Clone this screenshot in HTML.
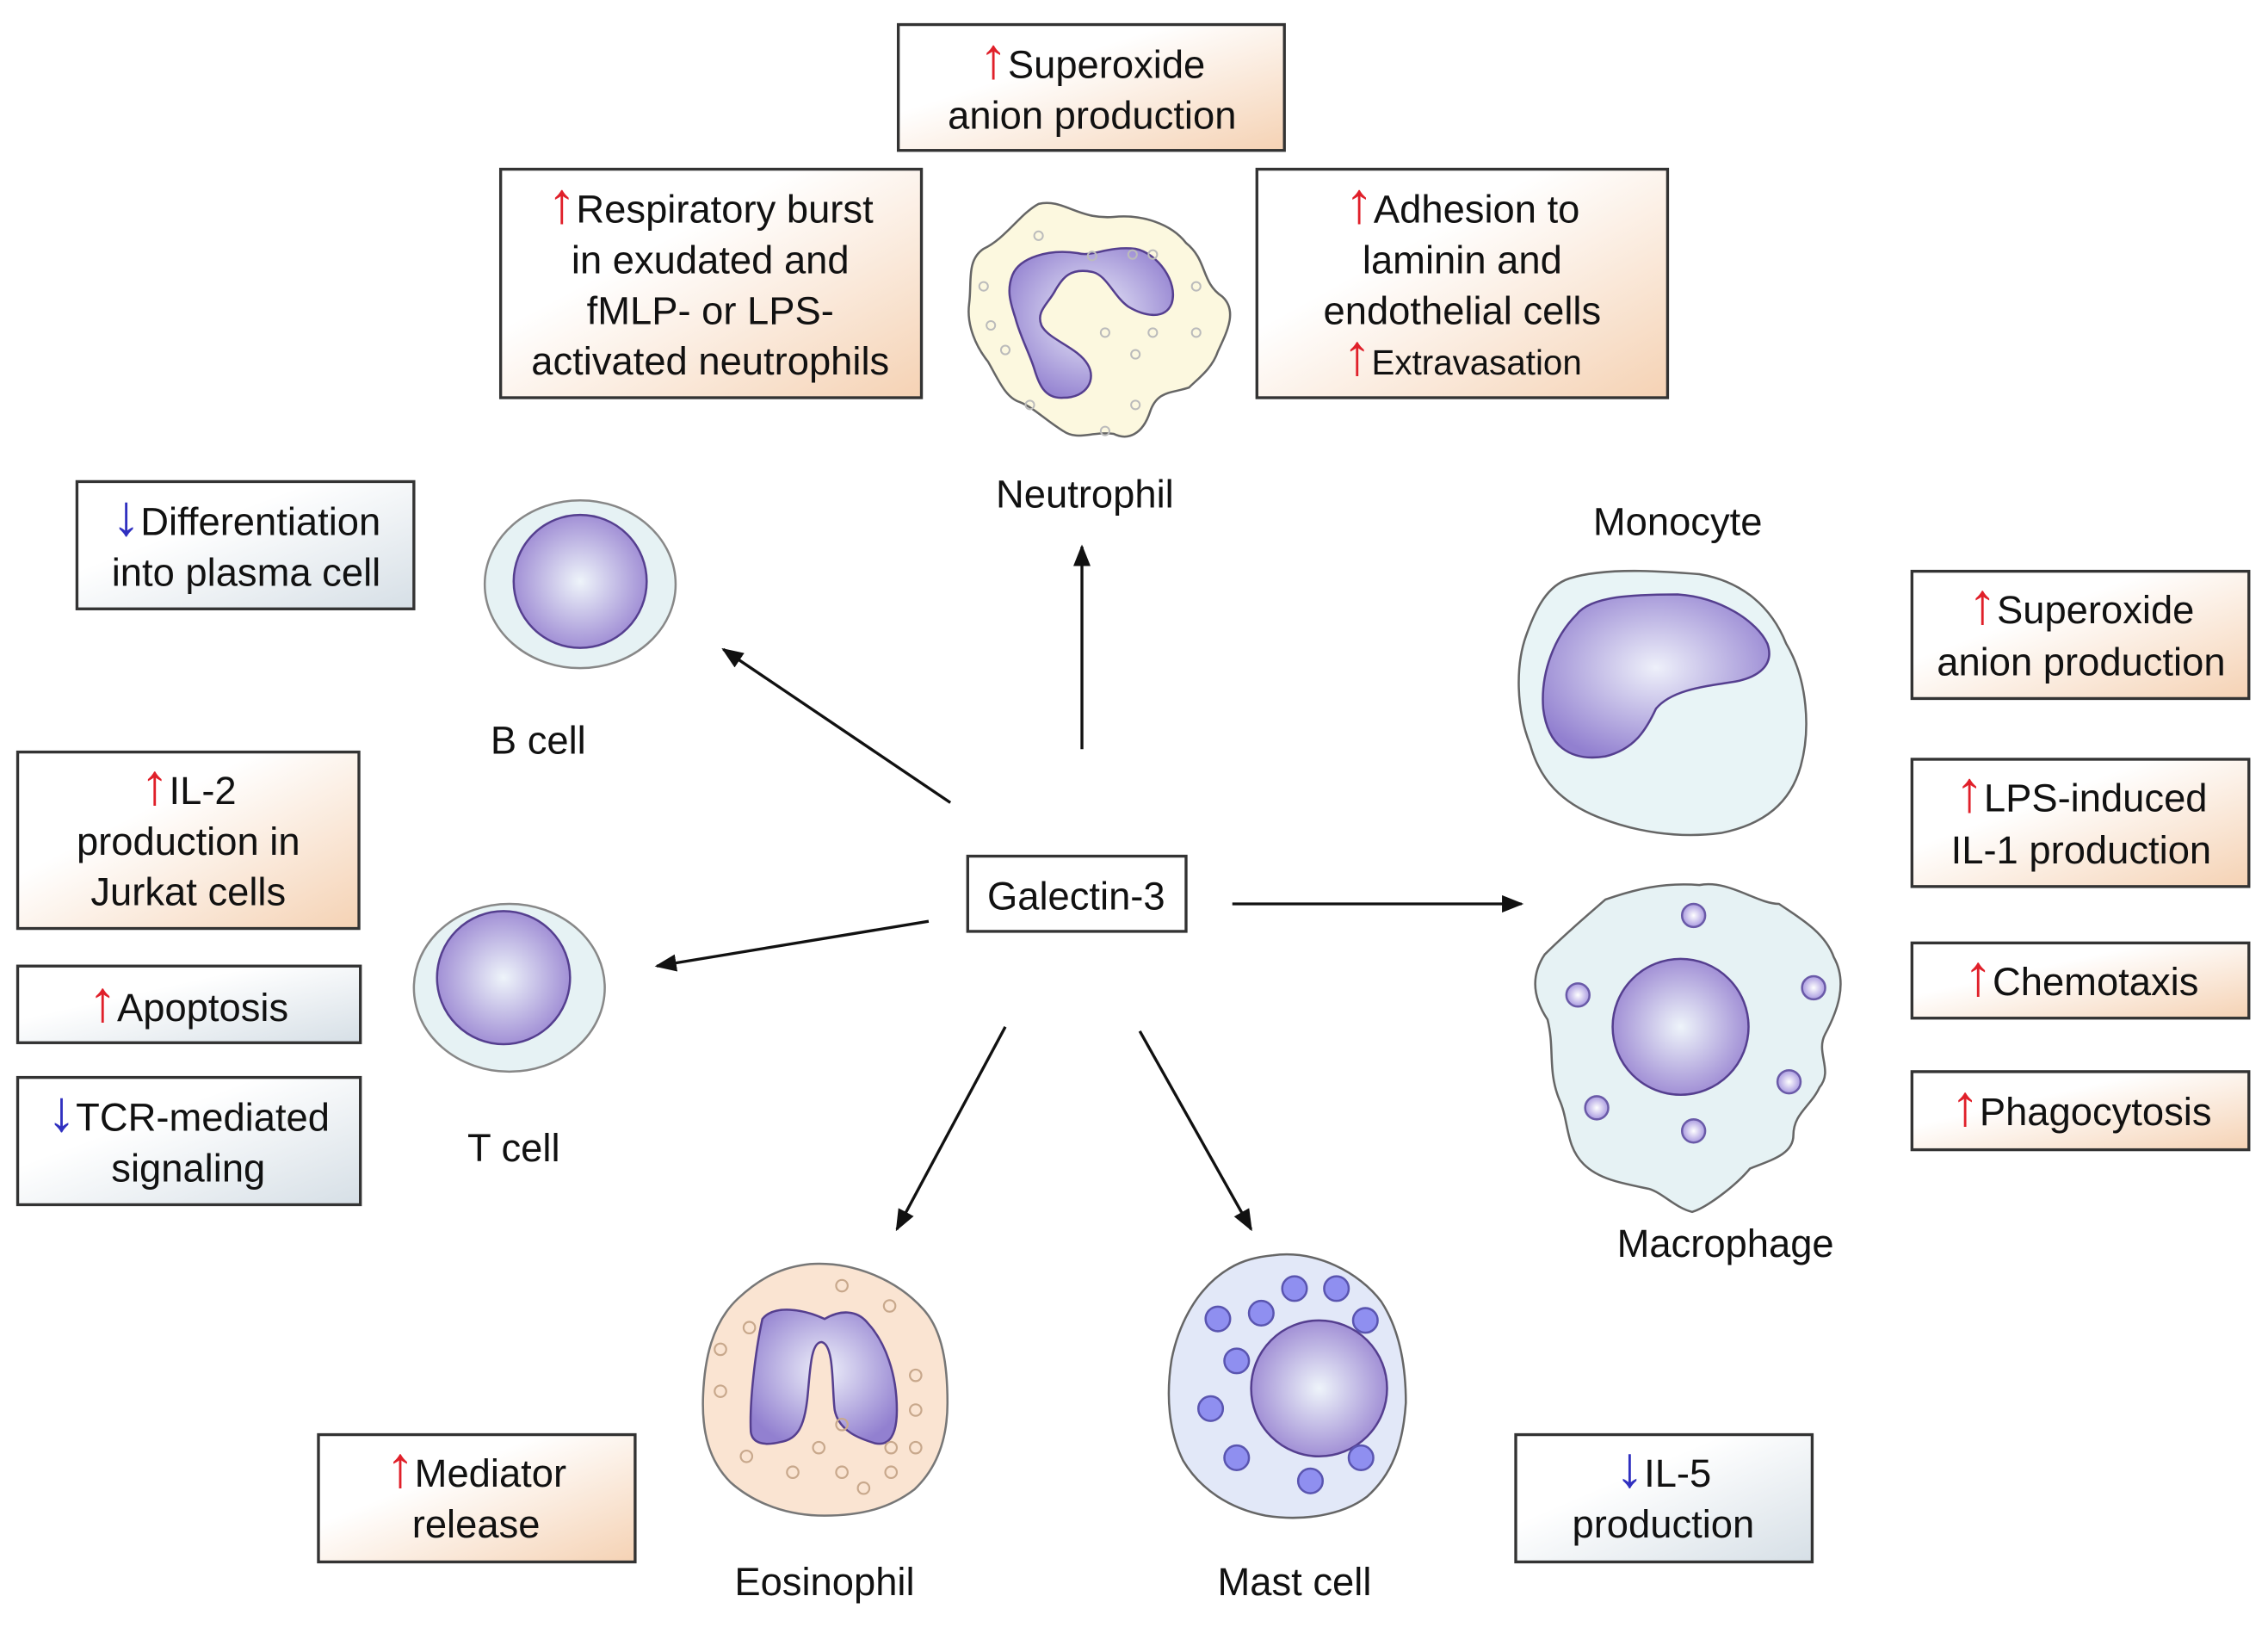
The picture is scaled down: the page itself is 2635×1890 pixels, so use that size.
<!DOCTYPE html>
<html><head><meta charset="utf-8"><style>html,body{margin:0;padding:0;background:#fff}svg{display:block}.u{fill:#e0202a;font-size:40px}.d{fill:#3030c0;font-size:40px}</style></head><body>
<svg width="2635" height="1890" viewBox="0 0 1568 1125" xmlns="http://www.w3.org/2000/svg" font-family="Liberation Sans, Arial, sans-serif">
<defs>
<linearGradient id="pe" x1="0" y1="0" x2="1" y2="1"><stop offset="0.35" stop-color="#ffffff"/><stop offset="1" stop-color="#f5d2b4"/></linearGradient>
<linearGradient id="bl" x1="0" y1="0" x2="1" y2="1"><stop offset="0.35" stop-color="#ffffff"/><stop offset="1" stop-color="#d6dfe6"/></linearGradient>
<radialGradient id="nu" cx="0.5" cy="0.5" r="0.55"><stop offset="0" stop-color="#eef4fa"/><stop offset="1" stop-color="#9a86d2"/></radialGradient>
<radialGradient id="nu2" cx="0.5" cy="0.45" r="0.6"><stop offset="0" stop-color="#eef0fa"/><stop offset="1" stop-color="#9280d0"/></radialGradient>
<radialGradient id="gr" cx="0.5" cy="0.5" r="0.5"><stop offset="0" stop-color="#ffffff"/><stop offset="1" stop-color="#a99ae0"/></radialGradient>
<marker id="ah" viewBox="0 0 10 10" refX="9" refY="5" markerWidth="15" markerHeight="12" orient="auto" markerUnits="userSpaceOnUse" preserveAspectRatio="none"><path d="M0,0 L10,5 L0,10 z" fill="#111"/></marker>
</defs>
<g stroke="#111" stroke-width="2" marker-end="url(#ah)">
<line x1="748" y1="518" x2="748" y2="378"/>
<line x1="657" y1="555" x2="500" y2="449"/>
<line x1="642" y1="637" x2="454" y2="668"/>
<line x1="852" y1="625" x2="1052" y2="625"/>
<line x1="695" y1="710" x2="620" y2="850"/>
<line x1="788" y1="713" x2="865" y2="850"/>
</g>
<g stroke="#333" stroke-width="2">
<rect x="621" y="17" width="267" height="87" fill="url(#pe)"/>
<rect x="346" y="117" width="291" height="158" fill="url(#pe)"/>
<rect x="869" y="117" width="284" height="158" fill="url(#pe)"/>
<rect x="53" y="333" width="233" height="88" fill="url(#bl)"/>
<rect x="12" y="520" width="236" height="122" fill="url(#pe)"/>
<rect x="12" y="668" width="237" height="53" fill="url(#bl)"/>
<rect x="12" y="745" width="237" height="88" fill="url(#bl)"/>
<rect x="669" y="592" width="151" height="52" fill="#fff"/>
<rect x="1322" y="395" width="233" height="88" fill="url(#pe)"/>
<rect x="1322" y="525" width="233" height="88" fill="url(#pe)"/>
<rect x="1322" y="652" width="233" height="52" fill="url(#pe)"/>
<rect x="1322" y="741" width="233" height="54" fill="url(#pe)"/>
<rect x="220" y="992" width="219" height="88" fill="url(#pe)"/>
<rect x="1048" y="992" width="205" height="88" fill="url(#bl)"/>
</g>
<path d="M718,141 C735,137 745,152 770,150 C790,148 810,155 820,168 C835,180 830,195 845,205 C856,215 848,230 842,243 C838,255 828,262 822,268 C810,272 800,270 795,285 C790,300 780,305 770,300 C755,298 745,305 735,298 C722,290 715,282 705,278 C695,275 690,262 683,250 C675,240 668,225 670,210 C672,195 668,180 680,172 C695,165 705,148 718,141 z" fill="#fcf8df" stroke="#666" stroke-width="1.5"/>
<path d="M700,190 C705,178 725,172 745,175 C755,178 765,170 785,172 C800,175 815,195 810,210 C805,222 790,218 780,212 C770,205 765,190 755,188 C740,185 735,192 730,200 C725,210 716,215 720,225 C725,235 745,240 752,252 C758,262 752,275 735,275 C722,276 718,265 715,255 C712,245 705,232 702,220 C698,208 696,200 700,190 z" fill="url(#nu2)" stroke="#553f8f" stroke-width="1.5"/>
<g fill="none" stroke="#bbb" stroke-width="1.2">
<circle cx="718" cy="163" r="3"/><circle cx="755" cy="177" r="3"/><circle cx="783" cy="176" r="3"/><circle cx="797" cy="176" r="3"/><circle cx="680" cy="198" r="3"/><circle cx="827" cy="198" r="3"/><circle cx="685" cy="225" r="3"/><circle cx="764" cy="230" r="3"/><circle cx="797" cy="230" r="3"/><circle cx="827" cy="230" r="3"/><circle cx="695" cy="242" r="3"/><circle cx="785" cy="245" r="3"/><circle cx="712" cy="280" r="3"/><circle cx="785" cy="280" r="3"/><circle cx="764" cy="298" r="3"/>
</g>
<ellipse cx="401" cy="404" rx="66" ry="58" fill="#e6f2f4" stroke="#888" stroke-width="1.5"/>
<circle cx="401" cy="402" r="46" fill="url(#nu)" stroke="#553f8f" stroke-width="1.5"/>
<ellipse cx="352" cy="683" rx="66" ry="58" fill="#e6f2f4" stroke="#888" stroke-width="1.5"/>
<circle cx="348" cy="676" r="46" fill="url(#nu)" stroke="#553f8f" stroke-width="1.5"/>
<path d="M1085,400 C1110,392 1150,395 1175,397 C1205,402 1225,420 1235,445 C1250,470 1252,505 1245,530 C1238,555 1220,570 1190,576 C1160,580 1130,575 1105,565 C1080,555 1065,540 1058,515 C1048,490 1048,460 1055,440 C1062,420 1070,405 1085,400 z" fill="#e8f4f6" stroke="#666" stroke-width="1.5"/>
<path d="M1090,425 C1100,412 1130,411 1160,411 C1190,413 1215,430 1222,445 C1228,462 1212,470 1195,472 C1175,475 1155,478 1145,490 C1138,505 1130,518 1110,523 C1085,527 1070,515 1067,490 C1065,465 1075,440 1090,425 z" fill="url(#nu2)" stroke="#553f8f" stroke-width="1.5"/>
<path d="M1110,622 C1130,615 1150,610 1175,612 C1195,608 1215,625 1230,625 C1245,635 1262,645 1268,662 C1278,680 1270,700 1262,715 C1255,728 1268,740 1258,752 C1252,765 1240,770 1240,785 C1240,798 1225,802 1210,808 C1200,820 1180,835 1170,838 C1158,835 1150,825 1140,822 C1120,818 1105,815 1095,805 C1082,792 1085,775 1078,760 C1070,740 1075,725 1070,705 C1060,690 1058,675 1068,660 C1080,648 1095,635 1110,622 z" fill="#e6f2f4" stroke="#666" stroke-width="1.5"/>
<circle cx="1162" cy="710" r="47" fill="url(#nu)" stroke="#553f8f" stroke-width="1.5"/>
<g fill="url(#gr)" stroke="#6a5aa8" stroke-width="1.5">
<circle cx="1171" cy="633" r="8"/><circle cx="1091" cy="688" r="8"/><circle cx="1254" cy="683" r="8"/><circle cx="1237" cy="748" r="8"/><circle cx="1104" cy="766" r="8"/><circle cx="1171" cy="782" r="8"/>
</g>
<path d="M560,874 C590,872 620,885 638,905 C652,920 655,945 655,970 C655,995 648,1015 632,1030 C615,1043 595,1048 570,1048 C545,1048 522,1040 505,1025 C490,1010 485,990 486,965 C487,940 492,915 510,898 C525,884 540,876 560,874 z" fill="#fae4d2" stroke="#777" stroke-width="1.5"/>
<path d="M527,912 C535,902 555,905 570,912 C580,906 592,905 600,915 C612,928 620,950 620,975 C620,992 615,1000 605,998 C595,995 580,990 577,975 C575,960 577,930 568,928 C560,928 560,950 558,968 C556,985 552,995 540,997 C528,1000 520,998 519,990 C518,970 522,935 527,912 z" fill="url(#nu2)" stroke="#553f8f" stroke-width="1.5"/>
<g fill="none" stroke="#c8a88c" stroke-width="1.3">
<circle cx="582" cy="889" r="4"/><circle cx="615" cy="903" r="4"/><circle cx="518" cy="918" r="4"/><circle cx="498" cy="933" r="4"/><circle cx="498" cy="962" r="4"/><circle cx="633" cy="951" r="4"/><circle cx="633" cy="975" r="4"/><circle cx="582" cy="985" r="4"/><circle cx="566" cy="1001" r="4"/><circle cx="616" cy="1001" r="4"/><circle cx="633" cy="1001" r="4"/><circle cx="516" cy="1007" r="4"/><circle cx="548" cy="1018" r="4"/><circle cx="582" cy="1018" r="4"/><circle cx="616" cy="1018" r="4"/><circle cx="597" cy="1029" r="4"/>
</g>
<path d="M880,868 C910,864 940,880 955,900 C968,920 972,945 972,970 C970,1000 962,1020 945,1035 C928,1048 900,1052 875,1048 C850,1043 830,1030 818,1010 C808,990 806,965 810,940 C815,915 828,890 850,877 C860,871 870,869 880,868 z" fill="#e2e8f8" stroke="#666" stroke-width="1.5"/>
<circle cx="912" cy="960" r="47" fill="url(#nu)" stroke="#553f8f" stroke-width="1.5"/>
<g fill="#8f8ff0" stroke="#5a55b0" stroke-width="1.5">
<circle cx="842" cy="912" r="8.5"/><circle cx="872" cy="908" r="8.5"/><circle cx="895" cy="891" r="8.5"/><circle cx="924" cy="891" r="8.5"/><circle cx="944" cy="913" r="8.5"/><circle cx="855" cy="941" r="8.5"/><circle cx="837" cy="974" r="8.5"/><circle cx="855" cy="1008" r="8.5"/><circle cx="906" cy="1024" r="8.5"/><circle cx="941" cy="1008" r="8.5"/>
</g>
<g font-size="27" fill="#111" text-anchor="middle">
<text x="755" y="54"><tspan class="u">↑</tspan>Superoxide</text>
<text x="755" y="89">anion production</text>
<text x="491" y="154"><tspan class="u">↑</tspan>Respiratory burst</text>
<text x="491" y="189">in exudated and</text>
<text x="491" y="224">fMLP- or LPS-</text>
<text x="491" y="259">activated neutrophils</text>
<text x="1011" y="154"><tspan class="u">↑</tspan>Adhesion to</text>
<text x="1011" y="189">laminin and</text>
<text x="1011" y="224">endothelial cells</text>
<text x="1011" y="259" font-size="24"><tspan class="u">↑</tspan>Extravasation</text>
<text x="750" y="351">Neutrophil</text>
<text x="170" y="370"><tspan class="d">↓</tspan>Differentiation</text>
<text x="170" y="405">into plasma cell</text>
<text x="372" y="521">B cell</text>
<text x="130" y="556"><tspan class="u">↑</tspan>IL-2</text>
<text x="130" y="591">production in</text>
<text x="130" y="626">Jurkat cells</text>
<text x="130" y="706"><tspan class="u">↑</tspan>Apoptosis</text>
<text x="130" y="782"><tspan class="d">↓</tspan>TCR-mediated</text>
<text x="130" y="817">signaling</text>
<text x="355" y="803">T cell</text>
<text x="744" y="629">Galectin-3</text>
<text x="1160" y="370">Monocyte</text>
<text x="1439" y="431"><tspan class="u">↑</tspan>Superoxide</text>
<text x="1439" y="467">anion production</text>
<text x="1439" y="561"><tspan class="u">↑</tspan>LPS-induced</text>
<text x="1439" y="597">IL-1 production</text>
<text x="1439" y="688"><tspan class="u">↑</tspan>Chemotaxis</text>
<text x="1439" y="778"><tspan class="u">↑</tspan>Phagocytosis</text>
<text x="1193" y="869">Macrophage</text>
<text x="329" y="1028"><tspan class="u">↑</tspan>Mediator</text>
<text x="329" y="1063">release</text>
<text x="1150" y="1028"><tspan class="d">↓</tspan>IL-5</text>
<text x="1150" y="1063">production</text>
<text x="570" y="1103">Eosinophil</text>
<text x="895" y="1103">Mast cell</text>
</g>
</svg>
</body></html>
